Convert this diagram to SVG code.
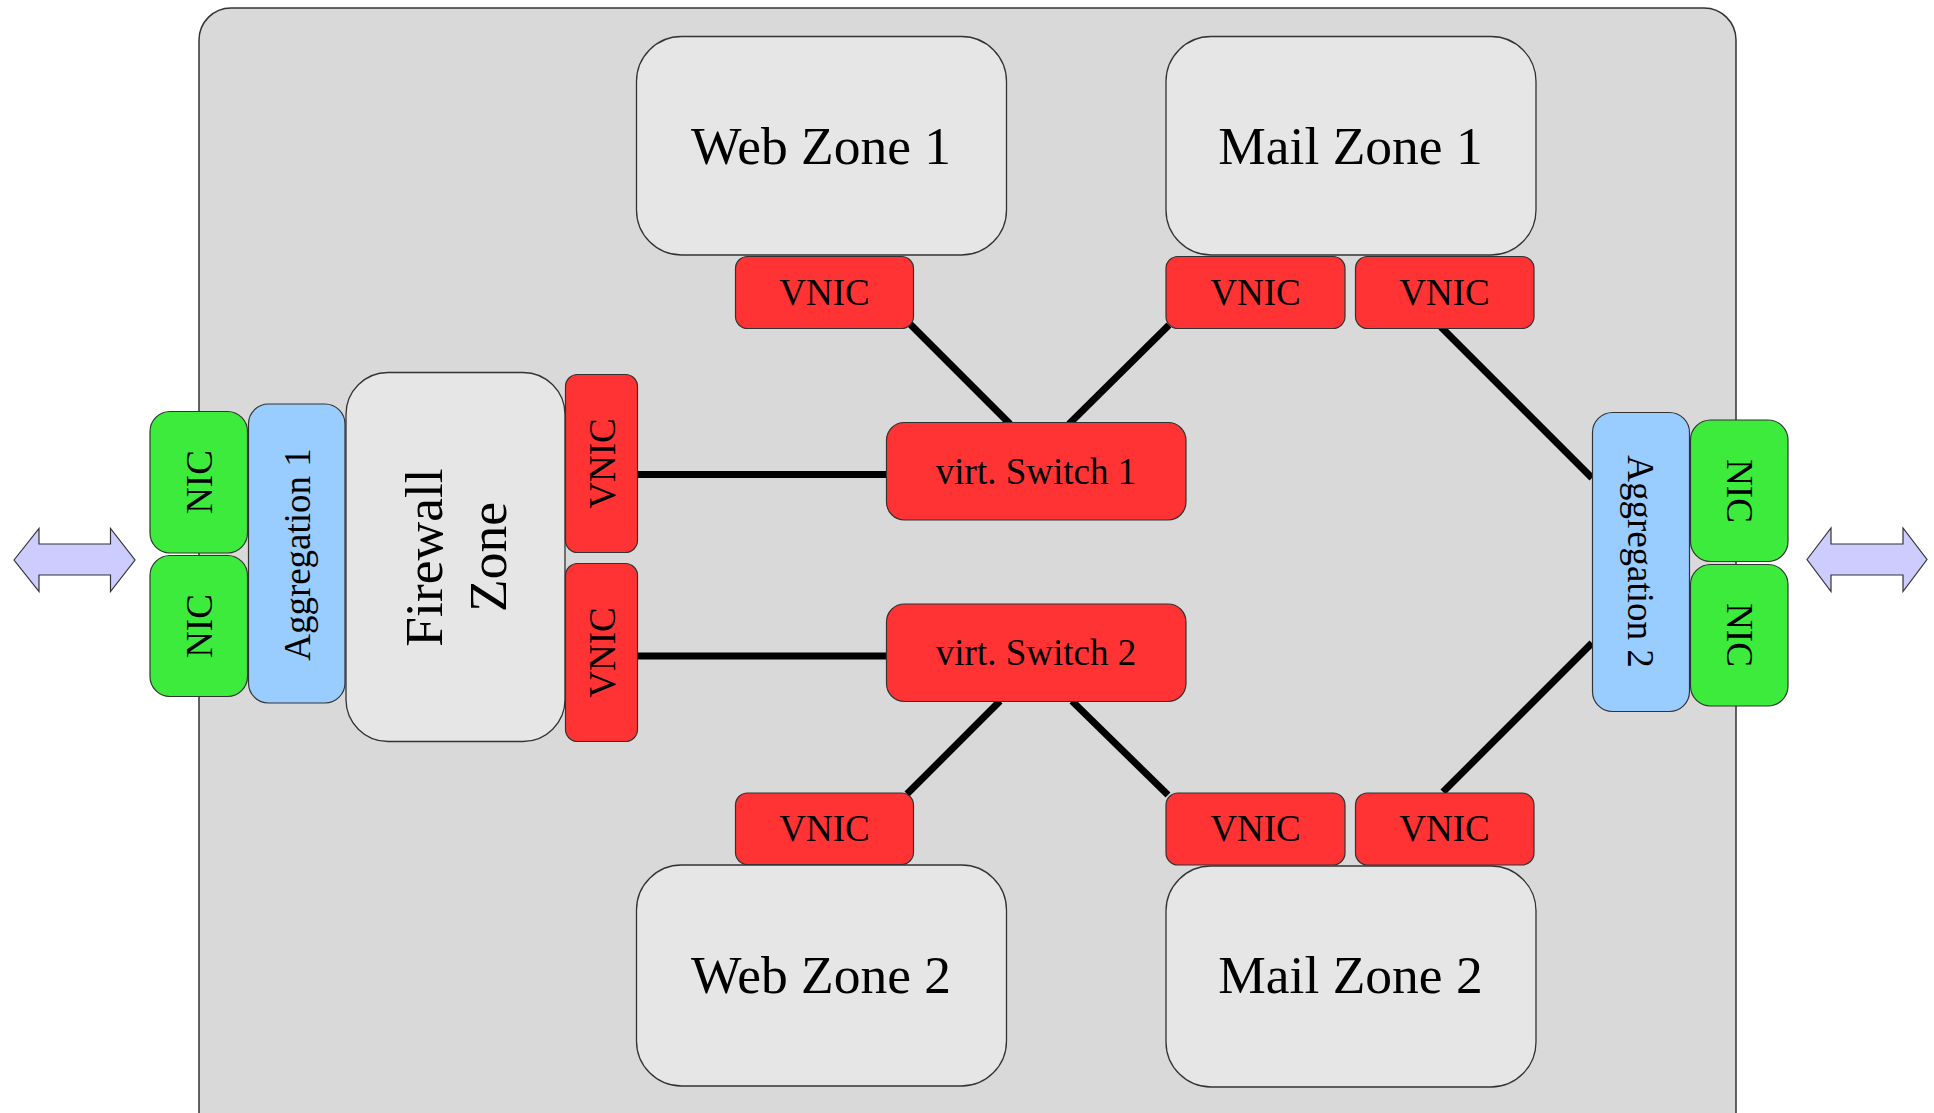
<svg xmlns="http://www.w3.org/2000/svg" width="1934" height="1113" viewBox="0 0 1934 1113">
  <style>
    text { font-family: "Liberation Serif", "Times New Roman", serif; fill: #000; text-anchor: middle; }
    .host { fill: #d9d9d9; stroke: #333; stroke-width: 1.5; }
    .zone { fill: #e6e6e6; stroke: #333; stroke-width: 1.3; }
    .vnic { fill: #ff3333; stroke: #333; stroke-width: 1.2; }
    .nic { fill: #3deb3d; stroke: #333; stroke-width: 1.2; }
    .aggr { fill: #99ccff; stroke: #333; stroke-width: 1.2; }
    .arrow { fill: #ccccff; stroke: #333; stroke-width: 1.2; }
    .big { font-size: 53.5px; }
    .small { font-size: 37px; }
    .link { stroke: #000; stroke-width: 7; fill: none; }
  </style>

  <!-- host system -->
  <rect id="host" class="host" x="199" y="8" width="1537" height="1150" rx="32"/>

  <!-- connectors -->
  <g id="connectors">
    <line class="link" x1="910" y1="324" x2="1010" y2="424"/>
    <line class="link" x1="1169" y1="325" x2="1069" y2="424"/>
    <line class="link" x1="1441" y1="327" x2="1592" y2="478"/>
    <line class="link" x1="1592" y1="643" x2="1443" y2="792"/>
    <line class="link" x1="637" y1="474.5" x2="887" y2="474.5"/>
    <line class="link" x1="637" y1="656" x2="887" y2="656"/>
    <line class="link" x1="1000" y1="701" x2="907" y2="794"/>
    <line class="link" x1="1072" y1="701" x2="1168" y2="795"/>
  </g>

  <!-- external links -->
  <g id="arrow-left">
    <polygon class="arrow" points="14,560 39,528.5 39,544 110.5,544 110.5,528.5 135,560 110.5,591.5 110.5,575 39,575 39,591.5"/>
  </g>
  <g id="arrow-right">
    <polygon class="arrow" points="1807,559.5 1831,528 1831,544 1903,544 1903,528 1927,559.5 1903,591.5 1903,575 1831,575 1831,591.5"/>
  </g>

  <!-- left physical side -->
  <g id="nic-l1">
    <rect class="nic" x="150" y="411.5" width="97.5" height="141.5" rx="20"/>
    <text class="small" transform="translate(211.5,482) rotate(-90)">NIC</text>
  </g>
  <g id="nic-l2">
    <rect class="nic" x="150" y="555.5" width="97.5" height="141" rx="20"/>
    <text class="small" transform="translate(211.5,626) rotate(-90)">NIC</text>
  </g>
  <g id="aggregation-1">
    <rect class="aggr" x="248.5" y="404" width="96.5" height="299" rx="20"/>
    <text class="small" transform="translate(309.5,554.5) rotate(-90)">Aggregation 1</text>
  </g>

  <!-- firewall -->
  <g id="firewall-zone">
    <rect class="zone" x="346" y="372.5" width="219" height="369" rx="42"/>
    <text class="big" transform="translate(442,557.5) rotate(-90)">Firewall</text>
    <text class="big" transform="translate(505.5,557) rotate(-90)">Zone</text>
  </g>
  <g id="vnic-fw1">
    <rect class="vnic" x="565.5" y="374.5" width="72" height="178" rx="12"/>
    <text class="small" transform="translate(614.5,463.5) rotate(-90)">VNIC</text>
  </g>
  <g id="vnic-fw2">
    <rect class="vnic" x="565.5" y="563.5" width="72" height="178" rx="12"/>
    <text class="small" transform="translate(614.5,652.5) rotate(-90)">VNIC</text>
  </g>

  <!-- switches -->
  <g id="switch-1">
    <rect class="vnic" x="886.5" y="422.5" width="299.5" height="97.5" rx="18"/>
    <text class="small" x="1036" y="483.5">virt. Switch 1</text>
  </g>
  <g id="switch-2">
    <rect class="vnic" x="886.5" y="604" width="299.5" height="97.5" rx="18"/>
    <text class="small" x="1036" y="665">virt. Switch 2</text>
  </g>

  <!-- web zones -->
  <g id="web-zone-1">
    <rect class="zone" x="636.5" y="36.5" width="370" height="218.5" rx="45"/>
    <text class="big" x="821" y="164">Web Zone 1</text>
  </g>
  <g id="vnic-web1">
    <rect class="vnic" x="735.5" y="256.5" width="178" height="72" rx="12"/>
    <text class="small" x="824.5" y="305">VNIC</text>
  </g>
  <g id="web-zone-2">
    <rect class="zone" x="636.5" y="865" width="370" height="221" rx="45"/>
    <text class="big" x="821" y="993">Web Zone 2</text>
  </g>
  <g id="vnic-web2">
    <rect class="vnic" x="735.5" y="793" width="178" height="71.5" rx="12"/>
    <text class="small" x="824.5" y="841">VNIC</text>
  </g>

  <!-- mail zones -->
  <g id="mail-zone-1">
    <rect class="zone" x="1166" y="36.5" width="370" height="218.5" rx="45"/>
    <text class="big" x="1350.5" y="164">Mail Zone 1</text>
  </g>
  <g id="vnic-mail1a">
    <rect class="vnic" x="1166" y="256.5" width="179" height="72" rx="12"/>
    <text class="small" x="1255.5" y="305">VNIC</text>
  </g>
  <g id="vnic-mail1b">
    <rect class="vnic" x="1355.5" y="256.5" width="178.5" height="72" rx="12"/>
    <text class="small" x="1444.5" y="305">VNIC</text>
  </g>
  <g id="mail-zone-2">
    <rect class="zone" x="1166" y="866" width="370" height="221" rx="45"/>
    <text class="big" x="1350.5" y="993">Mail Zone 2</text>
  </g>
  <g id="vnic-mail2a">
    <rect class="vnic" x="1166" y="793" width="179" height="72" rx="12"/>
    <text class="small" x="1255.5" y="841">VNIC</text>
  </g>
  <g id="vnic-mail2b">
    <rect class="vnic" x="1355.5" y="793" width="178.5" height="72" rx="12"/>
    <text class="small" x="1444.5" y="841">VNIC</text>
  </g>

  <!-- right physical side -->
  <g id="aggregation-2">
    <rect class="aggr" x="1592.5" y="412.5" width="97" height="299" rx="20"/>
    <text class="small" transform="translate(1628,561.5) rotate(90)">Aggregation 2</text>
  </g>
  <g id="nic-r1">
    <rect class="nic" x="1690.5" y="420" width="97.5" height="141.5" rx="20"/>
    <text class="small" transform="translate(1726.5,491) rotate(90)">NIC</text>
  </g>
  <g id="nic-r2">
    <rect class="nic" x="1690.5" y="564.5" width="97.5" height="141.5" rx="20"/>
    <text class="small" transform="translate(1726.5,635) rotate(90)">NIC</text>
  </g>
</svg>
